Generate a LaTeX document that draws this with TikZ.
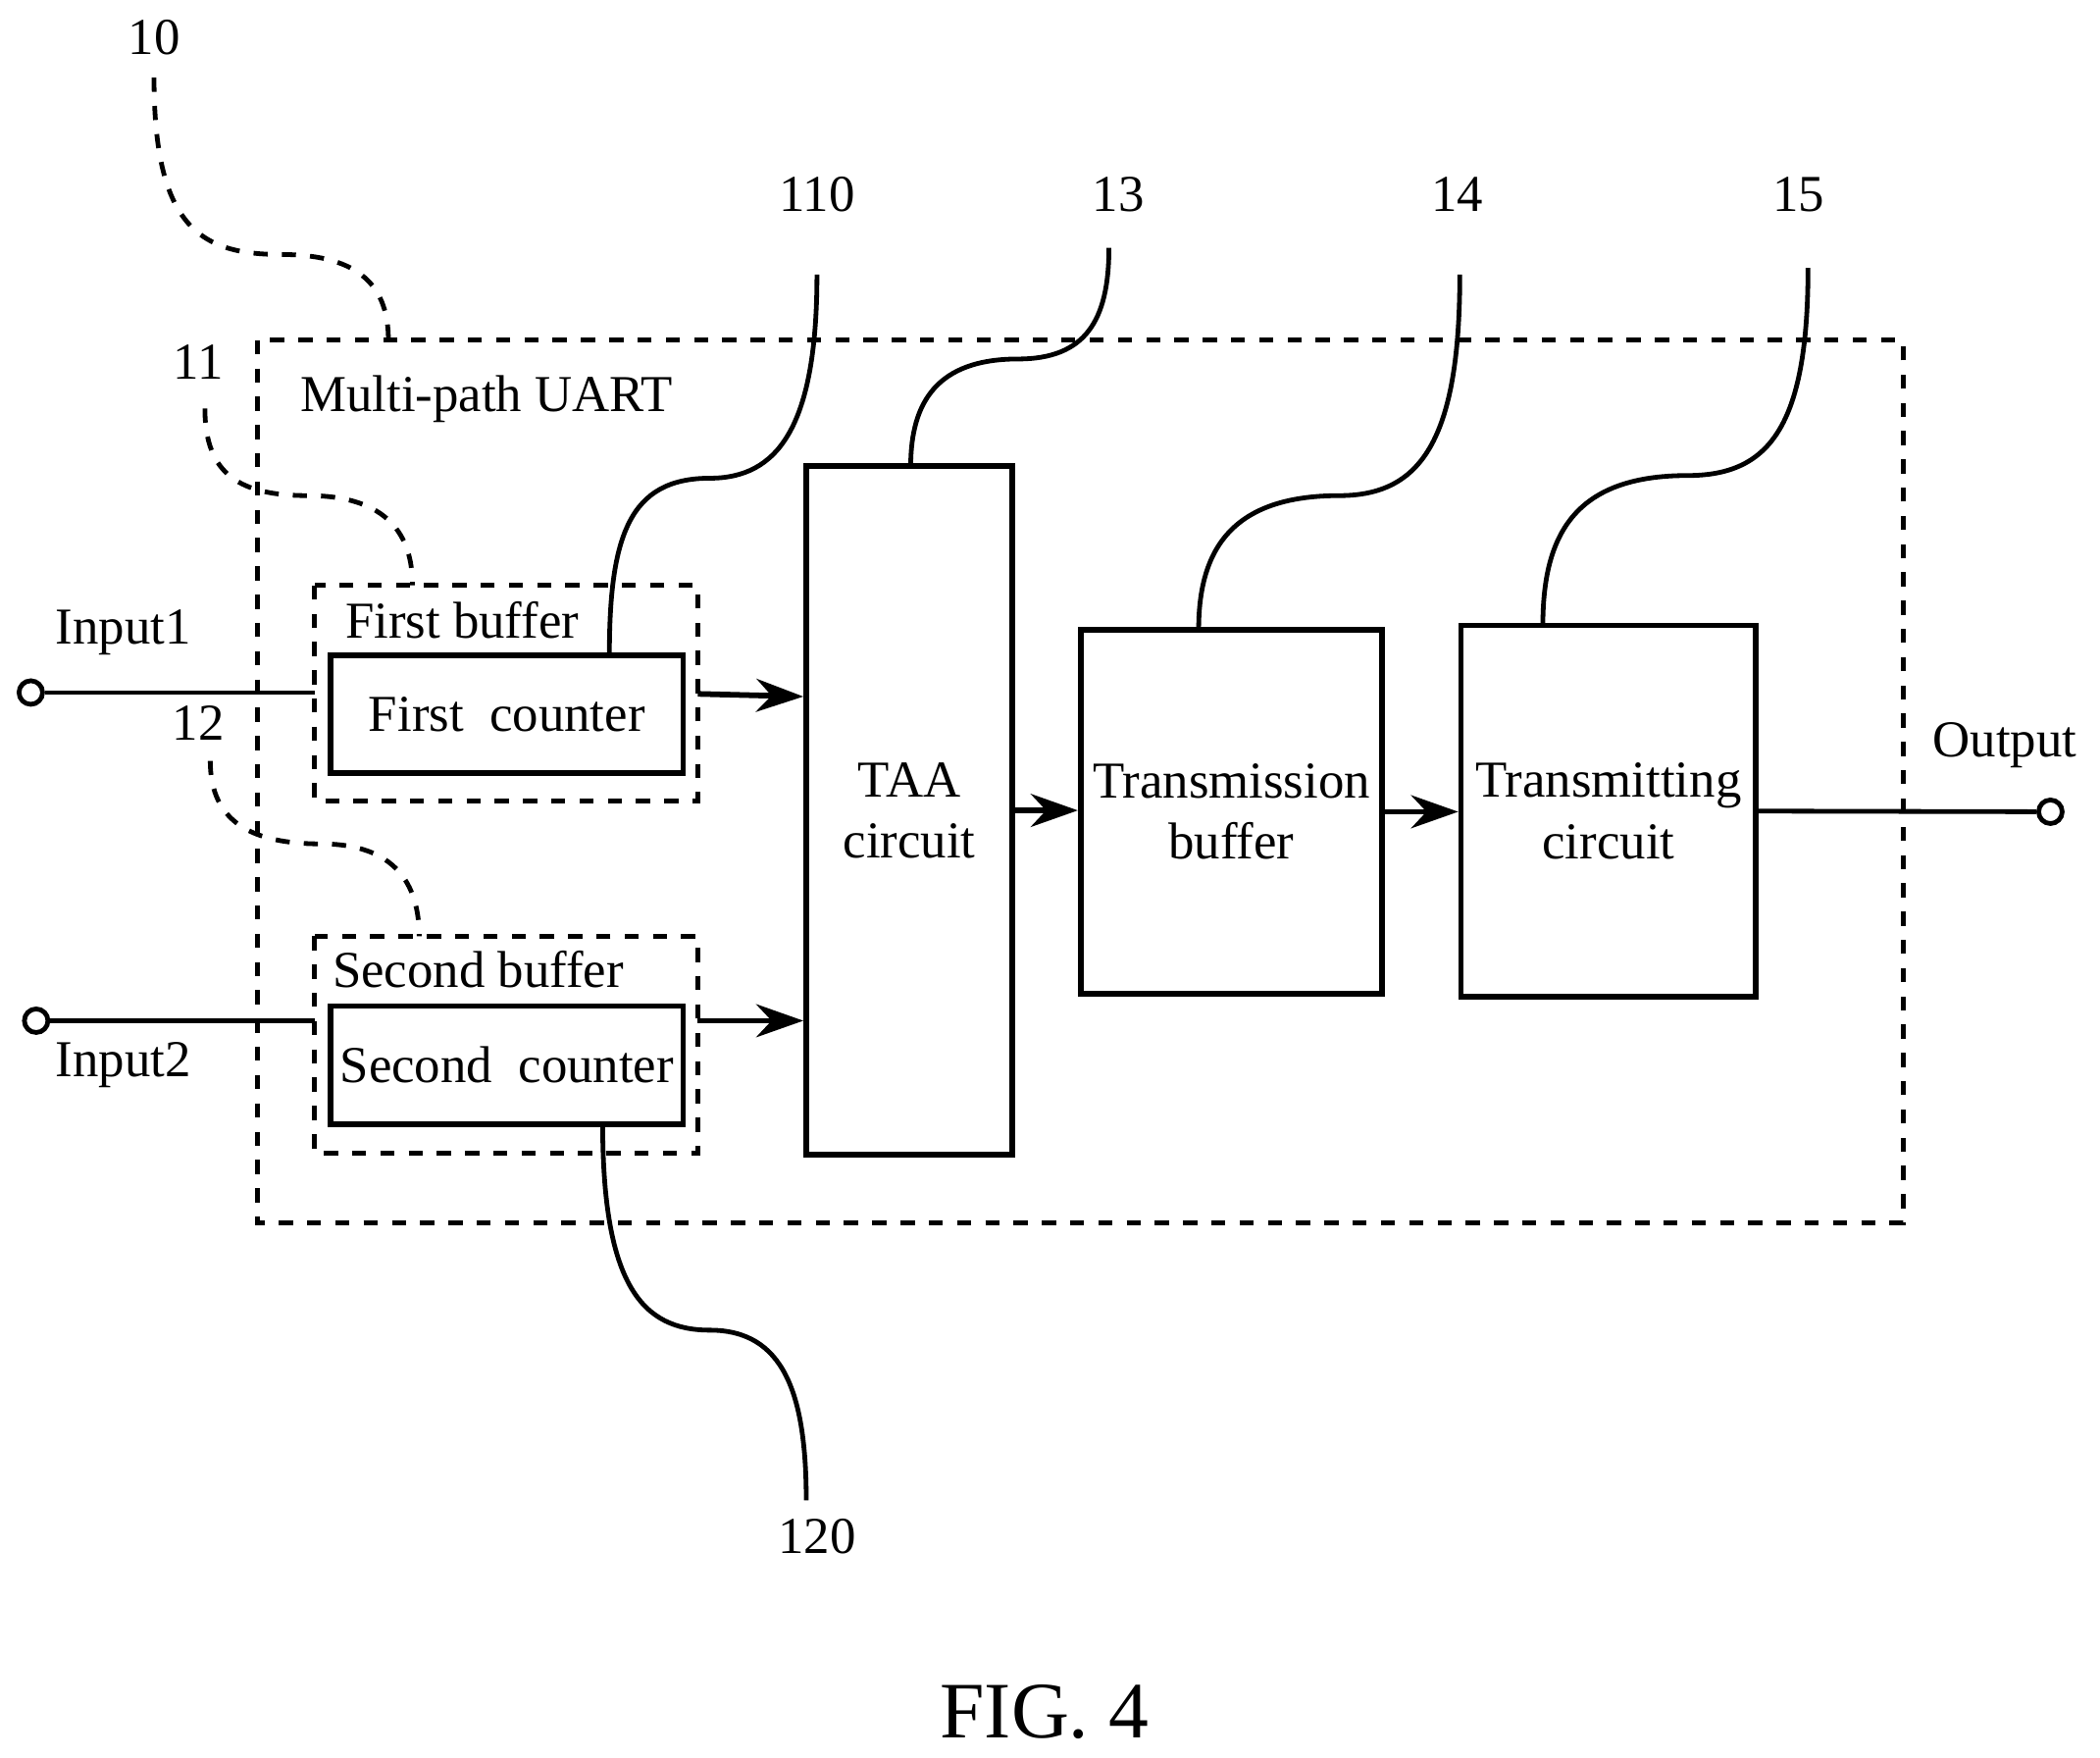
\documentclass[tikz,border=0pt]{standalone}
\usepackage{fontspec}
\setmainfont{Liberation Serif}
\usetikzlibrary{arrows.meta}
\begin{document}
\begin{tikzpicture}[x=0.01cm,y=-0.01cm]
\tikzset{box/.style = {draw=black,line width=1.2pt,inner sep=0pt},
         dbox/.style = {draw=black,dashed,line width=1pt},
         lead/.style = {line width=1pt},
         txt/.style = {font=\fontsize{11}{13}\selectfont,align=center},
         edge/.style = {-{Stealth[length=10pt,width=7pt]},line width=1.2pt},
         port/.style = {circle,draw=black,line width=1pt,inner sep=0pt,minimum size=5pt}}
\useasboundingbox (0,0) rectangle (1568,1312);

\draw[dbox] (192,254) rectangle (1421,913);
\node[txt,anchor=west] (uart) at (212,298) {Multi-path UART};

\draw[dbox] (235,437) rectangle (521,598);
\node[txt] (fbuf) at (345,463) {First buffer};
\node[box,txt,minimum width=2.63cm,minimum height=0.88cm] (fc) at (378.5,533) {First\ \ counter};

\draw[dbox] (235,699) rectangle (521,861);
\node[txt] (sbuf) at (357,724) {Second buffer};
\node[box,txt,minimum width=2.63cm,minimum height=0.88cm] (sc) at (378.5,795) {Second\ \ counter};

\node[box,txt,minimum width=1.54cm,minimum height=5.14cm] (taa) at (679,605) {TAA\\circuit};
\node[box,txt,minimum width=2.25cm,minimum height=2.72cm] (tb) at (919.5,606) {Transmission\\buffer};
\node[box,txt,minimum width=2.20cm,minimum height=2.77cm] (tc) at (1201,605.5) {Transmitting\\circuit};

\coordinate (fcl) at (235,517);
\coordinate (fcr) at (521,518);
\coordinate (scl) at (235,762);
\coordinate (scr) at (521,762);

\node[port] (in1) at (23,517) {};
\node[port] (in2) at (27,762) {};
\node[port] (out) at (1531,606) {};
\node[txt] (in1l) at (92,472) {Input1};
\node[txt] (in2l) at (92,795) {Input2};
\node[txt] (outl) at (1497,556) {Output};

\draw[lead] (in1) -- (fcl);
\draw[lead] (in2) -- (scl);
\draw[lead] (tc.east) -- (out);
\draw[edge] (fcr) -- (taa.west |- 0,520);
\draw[edge] (scr) -- (taa.west |- scr);
\draw[edge] (taa.east) -- (tb.west |- taa.east);
\draw[edge] (tb.east) -- (tc.west |- tb.east);

% reference numerals
\node[txt] (n10) at (115,28) {10};
\node[txt] (n11) at (148,270) {11};
\node[txt] (n12) at (148,540) {12};
\node[txt] (n110) at (610,145) {110};
\node[txt] (n13) at (835,145) {13};
\node[txt] (n14) at (1088,145) {14};
\node[txt] (n15) at (1343,145) {15};
\node[txt] (n120) at (610,1147) {120};
\node[font=\fontsize{17}{20}\selectfont] (fig) at (780,1278) {FIG. 4};

\draw[lead,dashed] (115,58) .. controls (115,170) and (150,190) .. (210,190) .. controls (270,190) and (290,215) .. (290,254);
\draw[lead,dashed] (153,305) .. controls (153,355) and (180,370) .. (230,370) .. controls (290,370) and (308,400) .. (308,437);
\draw[lead,dashed] (157,568) .. controls (157,615) and (190,630) .. (240,630) .. controls (295,630) and (313,660) .. (313,699);
\draw[lead] (610,205) .. controls (610,320) and (580,357) .. (530,357) .. controls (470,357) and (455,400) .. (455,489);
\draw[lead] (828,185) .. controls (828,240) and (810,268) .. (760,268) .. controls (700,268) and (680,300) .. (680,348);
\draw[lead] (1090,205) .. controls (1090,330) and (1060,370) .. (1000,370) .. controls (920,370) and (895,410) .. (895,470);
\draw[lead] (1350,200) .. controls (1350,320) and (1320,355) .. (1260,355) .. controls (1175,355) and (1152,400) .. (1152,467);
\draw[lead] (450,839) .. controls (450,960) and (480,993) .. (530,993) .. controls (585,993) and (602,1040) .. (602,1120);
\end{tikzpicture}
\end{document}
